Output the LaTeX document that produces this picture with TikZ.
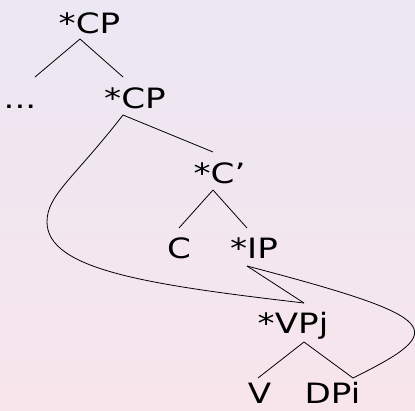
\documentclass[tikz,border=0pt]{standalone}
\usepackage{fontspec}
\setmainfont{DejaVu Sans}[FakeStretch=1.22]
\definecolor{topbg}{HTML}{EBE7F3}
\definecolor{botbg}{HTML}{F8E5EB}
\newcommand{\Fork}[3]{
  \draw (#1) -- (#2);
  \draw (#1) -- (#3);
}

\begin{document}
\begin{tikzpicture}[x=1pt,y=-1pt,line width=0.8pt,
    every node/.style={anchor=base,inner sep=0pt,font=\fontsize{28}{30}\selectfont}]
  \shade[top color=topbg,bottom color=botbg] (0,0) rectangle (415,410);
  \useasboundingbox (0,0) rectangle (415,410);
  % labels
  \node (CPa) at (89.5,33) {*CP};
  \node (Dots) at (20,108) {...};
  \node (CPb) at (135,108) {*CP};
  \node (Cbar) at (219.5,183) {*C'};
  \node (C) at (179,258) {C};
  \node (IP) at (254,258) {*IP};
  \node (VP) at (293,333) {*VPj};
  \node (V) at (259.5,403) {V};
  \node (DP) at (332.5,403) {DPi};
  % branch points
  \coordinate (A) at (80,39);
  \coordinate (Al) at (35,77);
  \coordinate (Ar) at (123,77);
  \coordinate (B) at (123,115);
  \coordinate (Br) at (213,152);
  \coordinate (K) at (213,190);
  \coordinate (Kl) at (179,228);
  \coordinate (Kr) at (247,228);
  \coordinate (I) at (247,266);
  \coordinate (Vt) at (304,303);
  \coordinate (P) at (304,342);
  \coordinate (Pl) at (258,378);
  \coordinate (Pr) at (353,378);
  \coordinate (L) at (47,222);
  \Fork{A}{Al}{Ar};
  \draw (B) -- (Br);
  \Fork{K}{Kl}{Kr};
  \draw (I) -- (Vt);
  \Fork{P}{Pl}{Pr};
  % movement lines
  \draw (B) .. controls (72.6,179.8) and (47,195) .. (L)
            .. controls (47,270) and (150,285) .. (Vt);
  \draw (I) .. controls (445,318) and (450,330) .. (Pr);
\end{tikzpicture}
\end{document}
